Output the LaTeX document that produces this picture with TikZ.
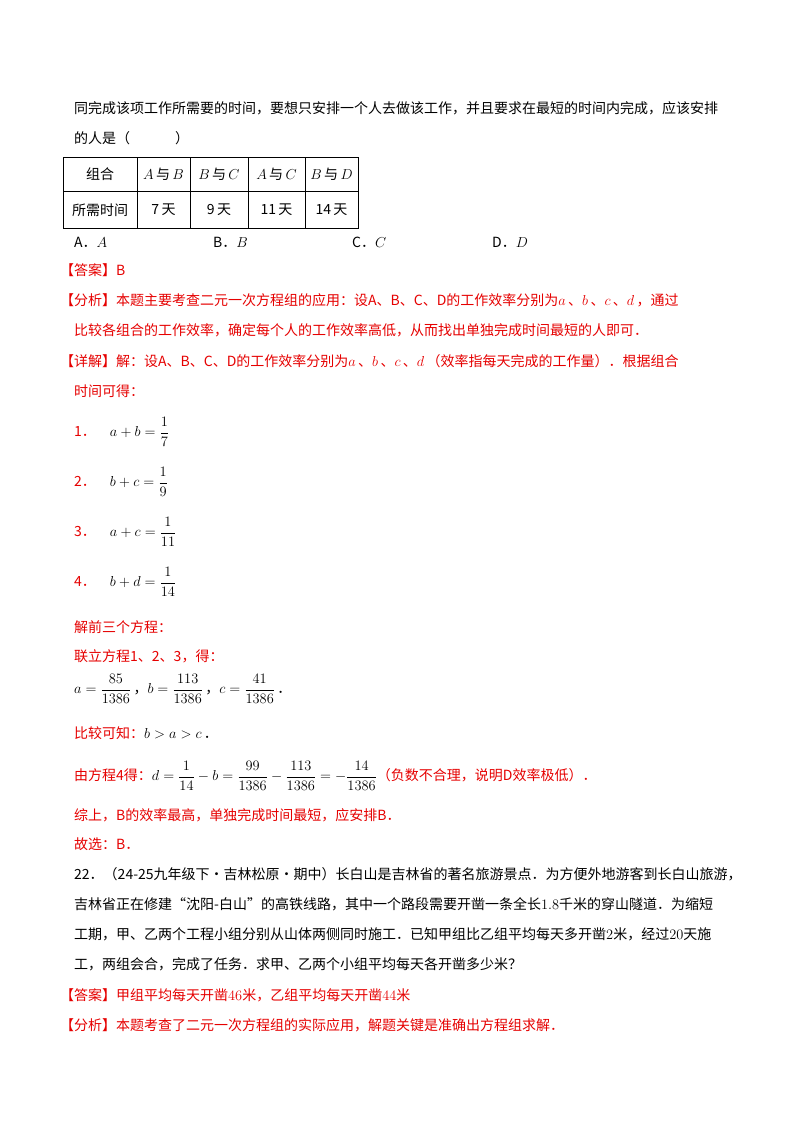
\documentclass[tikz,border=0pt]{standalone}
\usepackage{fontspec}
\setmainfont{Noto Sans CJK SC}
\definecolor{ans}{RGB}{230,0,0}
\begin{document}
\begin{tikzpicture}[x=1pt,y=-1pt,
  t/.style={anchor=west,inner sep=0pt,font=\fontsize{14}{16}\selectfont},
  r/.style={t,text=ans},
  cell/.style={inner sep=0pt,font=\fontsize{14}{16}\selectfont}]
\useasboundingbox (0,0) rectangle (800,1132);
\fill[white] (0,0) rectangle (800,1132);
\node[t] (l1) at (74,108) {同完成该项工作所需要的时间，要想只安排一个人去做该工作，并且要求在最短的时间内完成，应该安排};
\node[t] (l2) at (74,138) {的人是（\hspace{3.2em}）};
% table
\draw[line width=0.6pt] (63,157) rectangle (358,228);
\draw[line width=0.6pt] (63,191) -- (358,191);
\foreach \x in {137,190,248,305} \draw[line width=0.6pt] (\x,157) -- (\x,228);
\node[cell] (c11) at (100,174) {组合};
\node[cell] (c12) at (163.5,174) {$A$\,与\,$B$};
\node[cell] (c13) at (219,174) {$B$\,与\,$C$};
\node[cell] (c14) at (276.5,174) {$A$\,与\,$C$};
\node[cell] (c15) at (331.5,174) {$B$\,与\,$D$};
\node[cell] (c21) at (100,210) {所需时间};
\node[cell] (c22) at (163.5,210) {7\,天};
\node[cell] (c23) at (219,210) {9\,天};
\node[cell] (c24) at (276.5,210) {11\,天};
\node[cell] (c25) at (331.5,210) {14\,天};
\node[t] (oa) at (74,242) {A．$A$};
\node[t] (ob) at (213,242) {B．$B$};
\node[t] (oc) at (352,242) {C．$C$};
\node[t] (od) at (492,242) {D．$D$};
\node[r] (a1) at (60,270) {【答案】B};
\node[r] (f1) at (60,300) {【分析】本题主要考查二元一次方程组的应用：设A、B、C、D的工作效率分别为$a$\,、$b$\,、$c$\,、$d$\,，通过};
\node[r] (f2) at (74,330) {比较各组合的工作效率，确定每个人的工作效率高低，从而找出单独完成时间最短的人即可．};
\node[r] (x1) at (60,361) {【详解】解：设A、B、C、D的工作效率分别为$a$\,、$b$\,、$c$\,、$d$\,（效率指每天完成的工作量）．根据组合};
\node[r] (x2) at (74,391) {时间可得：};
\node[r] (e1) at (74,432) {1．\quad {\color{black}$a+b=\displaystyle\frac{1}{7}$}};
\node[r] (e2) at (74,482) {2．\quad {\color{black}$b+c=\displaystyle\frac{1}{9}$}};
\node[r] (e3) at (74,532) {3．\quad {\color{black}$a+c=\displaystyle\frac{1}{11}$}};
\node[r] (e4) at (74,582) {4．\quad {\color{black}$b+d=\displaystyle\frac{1}{14}$}};
\node[r] (s1) at (74,627) {解前三个方程：};
\node[r] (s2) at (74,656) {联立方程1、2、3，得：};
\node[t] (s3) at (74,689) {$a=\displaystyle\frac{85}{1386}$\,，$b=\displaystyle\frac{113}{1386}$\,，$c=\displaystyle\frac{41}{1386}$\,．};
\node[r] (s4) at (74,733) {比较可知：{\color{black}$b>a>c$\,．}};
\node[r] (s5) at (74,776) {由方程4得：{\color{black}$d=\displaystyle\frac{1}{14}-b=\frac{99}{1386}-\frac{113}{1386}=-\frac{14}{1386}$}（负数不合理，说明D效率极低）．};
\node[r] (s6) at (74,815) {综上，B的效率最高，单独完成时间最短，应安排B．};
\node[r] (s7) at (74,844) {故选：B．};
\node[t] (q1) at (74,874) {22．（24-25九年级下·吉林松原·期中）长白山是吉林省的著名旅游景点．为方便外地游客到长白山旅游，};
\node[t] (q2) at (74,904) {吉林省正在修建“沈阳-白山”的高铁线路，其中一个路段需要开凿一条全长$1.8$千米的穿山隧道．为缩短};
\node[t] (q3) at (74,934) {工期，甲、乙两个工程小组分别从山体两侧同时施工．已知甲组比乙组平均每天多开凿$2$米，经过$20$天施};
\node[t] (q4) at (74,964) {工，两组会合，完成了任务．求甲、乙两个小组平均每天各开凿多少米？};
\node[r] (a2) at (60,995) {【答案】甲组平均每天开凿$46$米，乙组平均每天开凿$44$米};
\node[r] (f3) at (60,1025) {【分析】本题考查了二元一次方程组的实际应用，解题关键是准确出方程组求解．};
\end{tikzpicture}
\end{document}
